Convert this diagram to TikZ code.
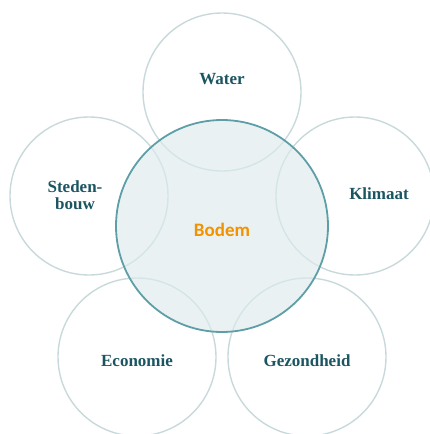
\documentclass[tikz,border=0pt]{standalone}
\usepackage{fontspec}
\setmainfont{Liberation Serif}
\newfontfamily\bodemfont{Carlito}
\usetikzlibrary{positioning}

\definecolor{ringgrey}{HTML}{C8D9DB}
\definecolor{ringteal}{HTML}{5E9FA7}
\definecolor{ringfill}{HTML}{DDEAED}
\definecolor{labelteal}{HTML}{1B5562}
\definecolor{bodemorange}{HTML}{F39200}

\begin{document}
\begin{tikzpicture}[x=1pt, y=-1pt,
    ring/.style={circle, draw=ringgrey, line width=1.4pt, minimum size=158pt, inner sep=0pt},
    kern/.style={circle, draw=ringteal, fill=ringfill, fill opacity=0.65, line width=1.8pt, minimum size=212pt, inner sep=0pt},
    thema/.style={anchor=base, text=labelteal, align=center, font=\fontsize{17}{17}\selectfont\bfseries}]
  \useasboundingbox (0,0) rectangle (430,434);

  \node[ring] (water) at (222,92) {};
  \node[ring] (steden) at (89,196) {};
  \node[ring] (klimaat) at (355,196) {};
  \node[ring] (economie) at (137,357) {};
  \node[ring] (gezondheid) at (307,357) {};

  \node[kern] (bodem) at (222,226) {};

  \node[thema] (twater) at (222,84) {Water};
  \node[thema] (tsteden) at (75,209) {Steden-\\bouw};
  \node[thema] (tklimaat) at (379,199) {Klimaat};
  \node[thema] (teconomie) at (137,366) {Economie};
  \node[thema] (tgezondheid) at (307,366) {Gezondheid};
  \node[anchor=base, text=bodemorange, font=\bodemfont\fontsize{19}{19}\selectfont\bfseries] (tbodem) at (222,236) {Bodem};
\end{tikzpicture}
\end{document}
